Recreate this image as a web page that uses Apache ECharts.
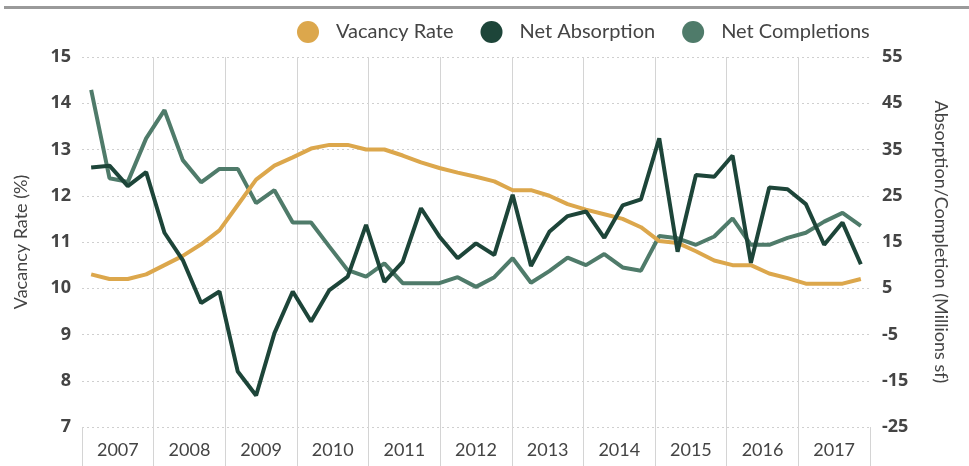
<!DOCTYPE html>
<html>
<head>
<meta charset="utf-8">
<script src="https://cdn.jsdelivr.net/npm/echarts@6/dist/echarts.min.js"></script>
<style>
    html, body { margin: 0; padding: 0; background: #fff; }
    #main { width: 969px; height: 466px; }
</style>
</head>
<body>
<div id="main"></div>
<script>
// quarters 2007Q1 .. 2017Q3
var quarters = [];
for (var y = 2007; y <= 2017; y++) {
    for (var q = 1; q <= 4; q++) {
        if (y === 2017 && q === 4) break;
        quarters.push(y + ' Q' + q);
    }
}
var years = ['2007', '2008', '2009', '2010', '2011', '2012', '2013', '2014', '2015', '2016', '2017'];

// 空置率 (%)
var vacancyRate = [10.3, 10.2, 10.2, 10.3, 10.5, 10.7, 10.95, 11.25, 11.8, 12.35, 12.65,
    12.83, 13.02, 13.1, 13.1, 13.0, 13.0, 12.87, 12.72, 12.6, 12.5, 12.41,
    12.31, 12.12, 12.12, 12.0, 11.82, 11.7, 11.6, 11.5, 11.32, 11.02, 10.98,
    10.8, 10.6, 10.5, 10.5, 10.32, 10.22, 10.1, 10.1, 10.1, 10.2];
// 净吸纳量 (Millions sf)
var netAbsorption = [31.1, 31.5, 27.1, 30.1, 17.0, 11.1, 1.8, 4.3, -13.0, -18.2, -4.7,
    4.3, -2.2, 4.6, 7.5, 18.7, 6.4, 10.7, 22.3, 16.2, 11.5, 14.7,
    12.2, 25.2, 9.8, 17.2, 20.6, 21.6, 15.9, 22.9, 24.2, 37.4, 12.9,
    29.5, 29.1, 33.7, 10.5, 26.8, 26.4, 23.2, 14.4, 19.2, 10.2];
// 净竣工量 (Millions sf)
var netCompletions = [47.9, 28.8, 28.0, 37.4, 43.5, 32.7, 27.9, 30.8, 30.8, 23.4, 26.2,
    19.2, 19.2, 14.0, 8.9, 7.5, 10.4, 6.1, 6.1, 6.1, 7.4, 5.3,
    7.4, 11.5, 6.2, 8.7, 11.6, 10.0, 12.4, 9.5, 8.8, 16.3, 15.8,
    14.4, 16.2, 20.1, 14.4, 14.4, 15.9, 17.0, 19.4, 21.3, 18.5];

var colors = ['#DCA74C', '#1D4539', '#4F7B6A'];
var labelFont = 'Lato, "Open Sans", sans-serif';

var myChart = echarts.init(document.getElementById('main'));
var option = {
    animation: false,
    color: colors,
    graphic: [{
        type: 'rect',
        shape: { x: 4, y: 6, width: 965, height: 3 },
        style: { fill: '#9a9a9a' },
        silent: true
    }],
    legend: {
        top: 16,
        left: 292,
        icon: 'circle',
        itemWidth: 22,
        itemHeight: 22,
        itemGap: 27,
        textStyle: { fontFamily: labelFont, fontSize: 20, color: '#444', padding: [0, 0, 0, 12] },
        data: ['Vacancy Rate', 'Net Absorption', 'Net Completions']
    },
    grid: { left: 82, right: 99, top: 57, bottom: 39 },
    xAxis: [
        {
            type: 'category',
            data: quarters,
            boundaryGap: true,
            show: false
        },
        {
            type: 'category',
            data: years,
            boundaryGap: true,
            position: 'bottom',
            axisLine: { show: false },
            axisTick: { show: true, length: 40, lineStyle: { color: '#d4d4d4', width: 1 } },
            axisLabel: { fontFamily: labelFont, fontSize: 18, color: '#444', margin: 14 },
            splitLine: { show: true, showMinLine: false, showMaxLine: false, lineStyle: { color: '#d4d4d4', width: 1 } }
        }
    ],
    yAxis: [
        {
            type: 'value',
            min: 7,
            max: 15,
            interval: 1,
            name: 'Vacancy Rate (%)',
            nameLocation: 'middle',
            nameGap: 52,
            nameTextStyle: { fontFamily: labelFont, fontSize: 18, color: '#444' },
            axisLine: { show: false },
            axisTick: { show: false },
            axisLabel: { fontFamily: '"Open Sans", sans-serif', fontWeight: 'bold', fontSize: 18, color: '#444', margin: 11 },
            splitLine: { lineStyle: { color: '#cfcfcf', type: [2, 3], width: 1 } }
        },
        {
            type: 'value',
            min: -25,
            max: 55,
            interval: 10,
            name: 'Absorption/Completion (Millions sf)',
            nameLocation: 'middle',
            nameGap: 62,
            nameRotate: -90,
            nameTextStyle: { fontFamily: labelFont, fontSize: 18, color: '#444' },
            axisLine: { show: false },
            axisTick: { show: false },
            axisLabel: { fontFamily: '"Open Sans", sans-serif', fontWeight: 'bold', fontSize: 18, color: '#444', margin: 12 },
            splitLine: { show: false }
        }
    ],
    series: [
        {
            name: 'Vacancy Rate',
            type: 'line',
            xAxisIndex: 0,
            yAxisIndex: 0,
            data: vacancyRate,
            showSymbol: false,
            lineStyle: { width: 4 },
            z: 3
        },
        {
            name: 'Net Absorption',
            type: 'line',
            xAxisIndex: 0,
            yAxisIndex: 1,
            data: netAbsorption,
            showSymbol: false,
            lineStyle: { width: 4 },
            z: 4
        },
        {
            name: 'Net Completions',
            type: 'line',
            xAxisIndex: 0,
            yAxisIndex: 1,
            data: netCompletions,
            showSymbol: false,
            lineStyle: { width: 4 },
            z: 2
        }
    ]
};
myChart.setOption(option);
</script>
</body>
</html>
